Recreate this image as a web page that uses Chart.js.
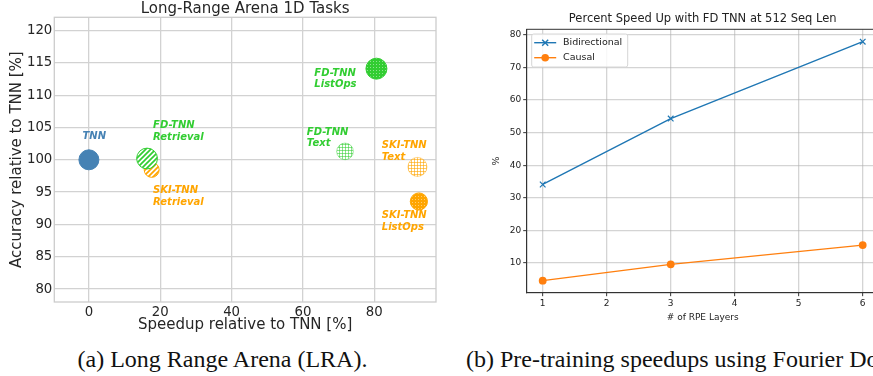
<!DOCTYPE html>
<html>
<head>
<meta charset="utf-8">
<script src="https://cdn.jsdelivr.net/npm/chart.js@4.4.1/dist/chart.umd.min.js"></script>
<style>
  html, body { margin: 0; padding: 0; background: #fff; width: 873px; height: 376px; overflow: hidden; }
  #lra { position: absolute; left: 0; top: 0; }
  #speed { position: absolute; left: 460px; top: 0; }
  .cap { position: absolute; top: 347px; font-family: "Liberation Serif", serif; font-size: 24px; line-height: 24px; color: #111; white-space: nowrap; }
</style>
</head>
<body>
<canvas id="lra" width="440" height="340"></canvas>
<canvas id="speed" width="430" height="330"></canvas>
<div class="cap" style="left:0; width:445px; text-align:center;">(a) Long Range Arena (LRA).</div>
<div class="cap" style="left:466px;">(b) Pre-training speedups using Fourier Domain TNN.</div>
<script>
// --- left: LRA scatter ---
const lraNames = ['TNN', 'SKI-TNN Retrieval', 'FD-TNN Retrieval', 'FD-TNN Text', 'FD-TNN ListOps', 'SKI-TNN Text', 'SKI-TNN ListOps'];
const lraSpeedup = [0, 17.6, 16.3, 71.8, 80.6, 92.1, 92.5];
const lraAccuracy = [100, 98.45, 100.2, 101.3, 114.1, 98.9, 93.55];
const xTicksStep = 20, yTicksStep = 5;

// label anchors, in data units
const labelLines = [['TNN'], ['SKI-TNN', 'Retrieval'], ['FD-TNN', 'Retrieval'], ['FD-TNN', 'Text'], ['FD-TNN', 'ListOps'], ['SKI-TNN', 'Text'], ['SKI-TNN', 'ListOps']];
const labelX = [-1.8, 18.0, 18.0, 61.1, 63.2, 82.1, 82.1];
const labelY = [103.6, 95.25, 105.26, 104.28, 113.4, 102.2, 91.34];

// --- right: speedup lines ---
const rpeLayers = [1, 3, 6];
const bidirectional = [34.1, 54.3, 77.9];
const causal = [4.6, 9.6, 15.5];

Chart.defaults.font.family = 'DejaVu Sans';

const BLUE = '#4682b4', GREEN = '#32cd32', ORANGE = '#ffa500';

function tile(n) {
  const c = document.createElement('canvas');
  c.width = c.height = n;
  return [c, c.getContext('2d')];
}
function stripes(color) {
  const [c, g] = tile(5);
  g.fillStyle = '#fff'; g.fillRect(0, 0, 5, 5);
  g.strokeStyle = color; g.lineWidth = 1.7;
  g.beginPath();
  g.moveTo(-1, 6); g.lineTo(6, -1);
  g.moveTo(-1, 1); g.lineTo(1, -1);
  g.moveTo(4, 6); g.lineTo(6, 4);
  g.stroke();
  return g.createPattern(c, 'repeat');
}
function gridHatch(color, alpha) {
  const [c, g] = tile(3);
  g.fillStyle = '#fff'; g.fillRect(0, 0, 3, 3);
  g.globalAlpha = alpha; g.fillStyle = color;
  g.fillRect(0, 0, 3, 1); g.fillRect(0, 0, 1, 3);
  return g.createPattern(c, 'repeat');
}
function dots(color) {
  const [c, g] = tile(3);
  g.fillStyle = color; g.fillRect(0, 0, 3, 3);
  g.fillStyle = 'rgba(255,255,255,0.45)'; g.fillRect(1, 1, 1, 1);
  return g.createPattern(c, 'repeat');
}

const cctx = document.getElementById('lra').getContext('2d');
const fills = [BLUE, stripes(ORANGE), stripes(GREEN), gridHatch(GREEN, 0.55), dots(GREEN), gridHatch(ORANGE, 0.6), dots(ORANGE)];
const edges = [BLUE, ORANGE, GREEN, 'rgba(50,205,50,0.45)', GREEN, 'rgba(255,165,0,0.45)', ORANGE];
const radii = [10, 7.5, 10.4, 8.3, 10.5, 9.5, 8.6];
const labelColors = [BLUE, ORANGE, GREEN, GREEN, GREEN, ORANGE, ORANGE];

const framePlugin = {
  id: 'frame',
  afterDraw(chart, args, opts) {
    const a = chart.chartArea, g = chart.ctx;
    g.save();
    g.strokeStyle = opts.color; g.lineWidth = opts.width;
    g.strokeRect(a.left, a.top, a.right - a.left, a.bottom - a.top);
    g.restore();
  }
};

const lraLabels = {
  id: 'lraLabels',
  afterDatasetsDraw(chart) {
    const g = chart.ctx, sx = chart.scales.x, sy = chart.scales.y;
    g.save();
    g.font = 'italic bold 10px "DejaVu Sans"';
    g.textAlign = 'left'; g.textBaseline = 'middle';
    labelLines.forEach((lines, i) => {
      const x = sx.getPixelForValue(labelX[i]);
      const y = sy.getPixelForValue(labelY[i]);
      g.fillStyle = labelColors[i];
      lines.forEach((t, j) => g.fillText(t, x, y + j * 11.6));
    });
    g.restore();
  }
};

new Chart(cctx, {
  type: 'scatter',
  data: {
    datasets: [{
      label: 'LRA',
      data: lraSpeedup.map((x, i) => ({ x: x, y: lraAccuracy[i] })),
      pointRadius: radii,
      pointBackgroundColor: fills,
      pointBorderColor: edges,
      pointBorderWidth: 1
    }]
  },
  options: {
    responsive: false,
    animation: false,
    events: [],
    layout: { padding: { top: 0, right: 4, left: 0, bottom: 0 }, autoPadding: false },
    plugins: {
      legend: { display: false },
      tooltip: { enabled: false },
      title: {
        display: true, text: 'Long-Range Arena 1D Tasks', color: '#262626', fullSize: false,
        font: { size: 15, weight: 'normal', lineHeight: 1.1 }, padding: { top: 0.8, bottom: 0 }
      },
      frame: { color: '#cccccc', width: 1.3 }
    },
    scales: {
      x: {
        type: 'linear', min: -9.7, max: 97.3,
        ticks: { stepSize: xTicksStep, includeBounds: false, padding: 3, color: '#262626', font: { size: 13.3 } },
        grid: { color: '#d2d2d2', lineWidth: 1.3, drawTicks: false },
        border: { display: false },
        title: { display: true, text: 'Speedup relative to TNN [%]', color: '#262626', font: { size: 15 }, padding: { top: 0, bottom: 6 } },
        afterFit(s) { s.height = 38; }
      },
      y: {
        type: 'linear', min: 78, max: 122.05,
        ticks: { stepSize: yTicksStep, includeBounds: false, padding: 2, color: '#262626', font: { size: 13.3 } },
        grid: { color: '#d2d2d2', lineWidth: 1.3, drawTicks: false },
        border: { display: false },
        title: { display: true, text: 'Accuracy relative to TNN [%]', color: '#262626', font: { size: 15 }, padding: { top: 8.5, bottom: 0 } },
        afterFit(s) { s.width = 54.3; }
      }
    }
  },
  plugins: [framePlugin, lraLabels]
});

// matplotlib style legend with line + marker handles, inside the axes
const innerLegend = {
  id: 'innerLegend',
  afterDatasetsDraw(chart) {
    const g = chart.ctx, a = chart.chartArea;
    const x0 = a.left + 5, y0 = a.top + 4.7, w = 96, h = 33;
    g.save();
    g.fillStyle = 'rgba(255,255,255,0.85)';
    g.strokeStyle = '#d6d6d6'; g.lineWidth = 1;
    g.beginPath(); g.roundRect(x0, y0, w, h, 2); g.fill(); g.stroke();
    g.font = '9.5px "DejaVu Sans"'; g.textBaseline = 'middle'; g.textAlign = 'left';
    chart.data.datasets.forEach((ds, i) => {
      const y = y0 + 8.7 + i * 15;
      g.strokeStyle = ds.borderColor; g.lineWidth = 1.4;
      g.beginPath(); g.moveTo(x0 + 2.5, y); g.lineTo(x0 + 24.5, y); g.stroke();
      const mx = x0 + 13.5;
      if (ds.pointStyle === 'crossRot') {
        g.beginPath();
        g.moveTo(mx - 3, y - 3); g.lineTo(mx + 3, y + 3);
        g.moveTo(mx - 3, y + 3); g.lineTo(mx + 3, y - 3);
        g.stroke();
      } else {
        g.fillStyle = ds.borderColor;
        g.beginPath(); g.arc(mx, y, 3.8, 0, Math.PI * 2); g.fill();
      }
      g.fillStyle = '#222';
      g.fillText(ds.label, x0 + 31.3, y);
    });
    g.restore();
  }
};

new Chart(document.getElementById('speed').getContext('2d'), {
  type: 'line',
  data: {
    datasets: [{
      label: 'Bidirectional',
      data: rpeLayers.map((x, i) => ({ x: x, y: bidirectional[i] })),
      borderColor: '#1f77b4', backgroundColor: '#1f77b4',
      borderWidth: 1.4, pointStyle: 'crossRot', pointRadius: 4, pointBorderWidth: 1.2
    }, {
      label: 'Causal',
      data: rpeLayers.map((x, i) => ({ x: x, y: causal[i] })),
      borderColor: '#ff7f0e', backgroundColor: '#ff7f0e',
      borderWidth: 1.4, pointStyle: 'circle', pointRadius: 3.9, pointBorderWidth: 0
    }]
  },
  options: {
    responsive: false,
    animation: false,
    events: [],
    layout: { padding: { top: 0, right: 11.3, left: 0, bottom: 0 }, autoPadding: false },
    plugins: {
      legend: { display: false },
      tooltip: { enabled: false },
      title: {
        display: true, text: 'Percent Speed Up with FD TNN at 512 Seq Len', color: '#222', fullSize: false,
        font: { size: 11.5, weight: 'normal', lineHeight: 1.2 }, padding: { top: 12.6, bottom: 2.9 }
      },
      frame: { color: '#333', width: 1 }
    },
    scales: {
      x: {
        type: 'linear', min: 0.75, max: 6.25,
        ticks: { stepSize: 1, includeBounds: false, padding: 2, color: '#222', font: { size: 9 } },
        grid: { color: 'rgba(176,176,176,0.55)', lineWidth: 1.3, tickColor: '#333', tickLength: 3.5, tickWidth: 1 },
        border: { color: '#333', width: 1 },
        title: { display: true, text: '# of RPE Layers', color: '#222', font: { size: 9 }, padding: { top: 0, bottom: 7.3 } },
        afterFit(s) { s.height = 330 - 292.7; }
      },
      y: {
        type: 'linear', min: 0.9, max: 81.7,
        ticks: { stepSize: 10, includeBounds: false, padding: 2, color: '#222', font: { size: 9 } },
        grid: { color: 'rgba(176,176,176,0.55)', lineWidth: 1.3, tickColor: '#333', tickLength: 3.5, tickWidth: 1 },
        border: { color: '#333', width: 1 },
        title: { display: true, text: '%', color: '#222', font: { size: 9.5 }, padding: { top: 31.3, bottom: 0 } },
        afterFit(s) { s.width = 66.7; }
      }
    }
  },
  plugins: [framePlugin, innerLegend]
});
</script>
</body>
</html>
